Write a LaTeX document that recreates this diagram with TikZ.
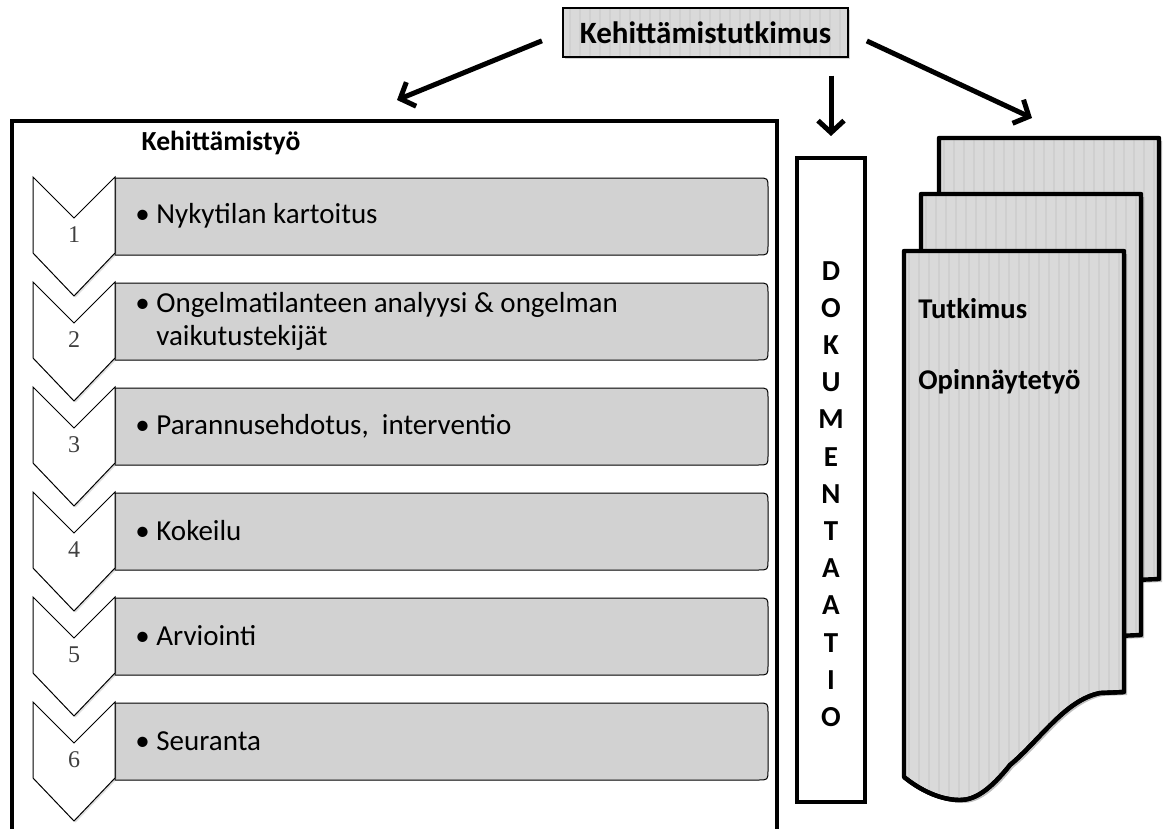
\documentclass[tikz,border=0pt]{standalone}
\usepackage{fontspec}
\setmainfont{Carlito}
\newfontfamily\numfont{Liberation Serif}
\usetikzlibrary{arrows.meta,patterns.meta,shadows}

\newcommand\pageoutline{(904,251) -- (1124,251) -- (1124,692) -- (1100,693)
  .. controls (1065,700) and (1040,740) .. (1010,765)
  .. controls (990,790) and (975,800) .. (960,800)
  .. controls (940,800) and (920,790) .. (904,777) -- cycle}

\begin{document}
\begin{tikzpicture}[x=0.5pt,y=-0.5pt,
  stripes/.style={fill=gray!30,postaction={pattern={Lines[angle=90,distance=5pt,line width=0.7pt]},pattern color=gray!37}},
  softshadow/.style={drop shadow={opacity=0.35,shadow xshift=1.2pt,shadow yshift=-1.2pt}},
  topbox/.style={draw,line width=0.7pt,stripes,softshadow,postaction={draw,line width=0.7pt},
    minimum width=142.5pt,minimum height=24.5pt,inner sep=0pt,font=\fontsize{15.5}{18}\selectfont\bfseries},
  bigarrow/.style={line width=2.5pt,-{Straight Barb[length=6pt,width=13pt]}},
  dokbox/.style={draw,line width=2pt,minimum width=34pt,minimum height=322pt,inner sep=0pt},
  steprect/.style={draw,line width=0.5pt,fill=gray!35},
  chev/.style={draw,line width=0.5pt,fill=white,drop shadow={opacity=0.25,shadow xshift=0.8pt,shadow yshift=-0.8pt}},
  steptext/.style={anchor=west,align=left,inner sep=0pt,font=\fontsize{14.5}{16.5}\selectfont},
  pagetext/.style={anchor=west,inner sep=0pt,font=\fontsize{14.3}{16}\selectfont\bfseries},
  pageshade/.style={fill=black,fill opacity=0.25},
  pagefill/.style={fill=gray!30},
  stripeline/.style={draw=gray!38,line width=0.7pt},
  pageedge/.style={draw=black,line width=2.2pt,line join=round}]
  \useasboundingbox (0,0) rectangle (1167,829);

  \node[topbox] (tutk) at (705.5,32.5) {Kehittämistutkimus};
  \coordinate (arrL) at (397,100);
  \coordinate (arrR) at (1032,118);

  \draw[line width=2pt] (12,829) -- (12,121) -- (777,121) -- (777,829);
  \node[font=\fontsize{13.8}{16}\selectfont\bfseries] (kehtyo) at (221,143) {Kehittämistyö};

  \foreach \n/\t/\txt in {1/178/{Nykytilan kartoitus},
      2/283/{Ongelmatilanteen analyysi \& ongelman\\\hphantom{\textbullet\ }vaikutustekijät},
      3/388/{Parannusehdotus,\ \ interventio},
      4/493/{Kokeilu},
      5/598/{Arviointi},
      6/703/{Seuranta}} {
    \draw[steprect] (115,\t) -- (758,\t) .. controls (768,\t) .. (768,\t+10)
      -- (768,\t+67) .. controls (768,\t+77) .. (758,\t+77) -- (115,\t+77) -- cycle;
    \draw[chev] (33,\t-1) -- (74,\t+40) -- (115,\t-1) -- (115,\t+75) -- (74,\t+118) -- (33,\t+75) -- cycle;
    \node[font=\numfont\fontsize{12}{13}\selectfont,text=black!75] (num\n) at (74,\t+57) {\n};
    \node[steptext] (step\n) at (135,\t+38) {\textbullet\ \txt};
  }

  \node[dokbox] (dok) at (831,480) {};
  \node[font=\fontsize{14.5}{18.6}\selectfont\bfseries,align=center] (doktxt) at (831,494)
    {D\\O\\K\\U\\M\\E\\N\\T\\A\\A\\T\\I\\O};

  \foreach \dx/\dy in {35/-113,17/-57,0/0} {
    \begin{scope}[shift={(\dx,\dy)}]
      \path[pageshade,shift={(3,3)}] \pageoutline;
      \path[pagefill] \pageoutline;
      \begin{scope}
        \clip \pageoutline;
        \foreach \sx in {909,919,...,1124} \draw[stripeline] (\sx,240) -- (\sx,810);
      \end{scope}
      \path[pageedge] \pageoutline;
    \end{scope}
  }
  \node[pagetext] (tutkimus) at (918,309) {Tutkimus};
  \node[pagetext] (opinn) at (918,382) {Opinnäytetyö};
  \draw[pageedge] (904,251) -- (904,777);
  \draw[pageedge] (904,777) .. controls (920,790) and (940,800) .. (960,800)
    .. controls (975,800) and (990,790) .. (1010,765)
    .. controls (1040,740) and (1065,700) .. (1100,693) -- (1124,692);

  \draw[bigarrow,shorten <=11pt] (tutk.west) -- (arrL);
  \draw[bigarrow,shorten <=10pt] (tutk.east) -- (arrR);
  \draw[bigarrow,shorten <=9pt,shorten >=10pt] (tutk.south -| dok.north) -- (dok.north);
\end{tikzpicture}
\end{document}
